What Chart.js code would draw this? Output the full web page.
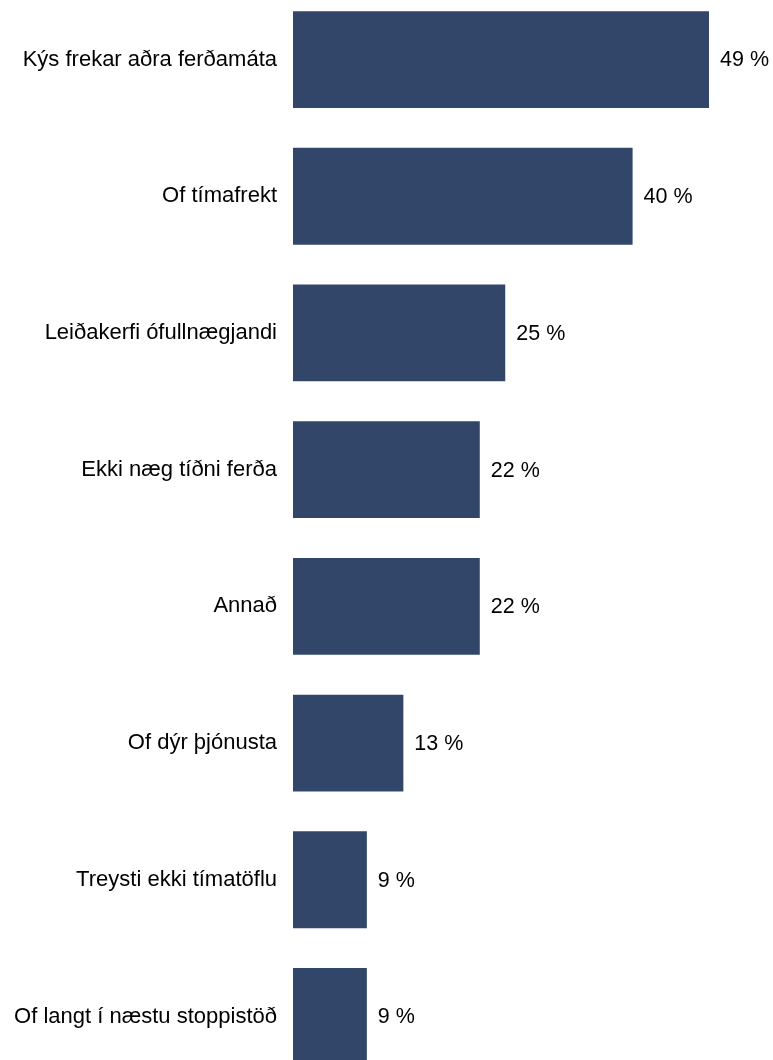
<!DOCTYPE html>
<html>
<head>
<meta charset="utf-8">
<script src="https://cdn.jsdelivr.net/npm/chart.js@4"></script>
<style>
  html, body { margin: 0; padding: 0; background: #fff; overflow: hidden; }
  #chart { position: absolute; left: 0; top: -38px; }
</style>
</head>
<body>
<canvas id="chart" width="773" height="1152"></canvas>
<script>
const categories = [
    "Kýs frekar aðra ferðamáta",
    "Of tímafrekt",
    "Leiðakerfi ófullnægjandi",
    "Ekki næg tíðni ferða",
    "Annað",
    "Of dýr þjónusta",
    "Treysti ekki tímatöflu",
    "Of langt í næstu stoppistöð"
];
const values = [49, 40, 25, 22, 22, 13, 8.7, 8.7];
const valueLabels = ["49 %", "40 %", "25 %", "22 %", "22 %", "13 %", "9 %", "9 %"];

const barColor = "#32466a";
const font = "Liberation Sans, Arial, sans-serif";

// labels to the right of each bar
const valueLabelPlugin = {
    id: "valueLabels",
    afterDatasetsDraw(chart) {
        const ctx = chart.ctx;
        const meta = chart.getDatasetMeta(0);
        ctx.save();
        ctx.font = "21.5px " + font;
        ctx.fillStyle = "#000";
        ctx.textAlign = "left";
        ctx.textBaseline = "middle";
        meta.data.forEach((bar, i) => {
            ctx.fillText(valueLabels[i], bar.x + 11, bar.y + 1);
        });
        ctx.restore();
    }
};

new Chart(document.getElementById("chart"), {
    type: "bar",
    data: {
        labels: categories,
        datasets: [{
            data: values,
            backgroundColor: barColor,
            borderWidth: 0,
            categoryPercentage: 1,
            barPercentage: 0.708
        }]
    },
    options: {
        indexAxis: "y",
        responsive: false,
        animation: false,
        layout: { padding: { left: 0, right: 55.5, top: 0, bottom: 0 } },
        plugins: {
            legend: { display: false },
            tooltip: { enabled: false }
        },
        scales: {
            x: {
                display: false,
                min: 0,
                max: 50
            },
            y: {
                afterFit(scale) { scale.width = 293; },
                grid: { display: false, drawTicks: false },
                border: { display: false },
                ticks: {
                    color: "#000",
                    padding: 16,
                    font: { family: font, size: 22 }
                }
            }
        }
    },
    plugins: [valueLabelPlugin]
});
</script>
</body>
</html>
